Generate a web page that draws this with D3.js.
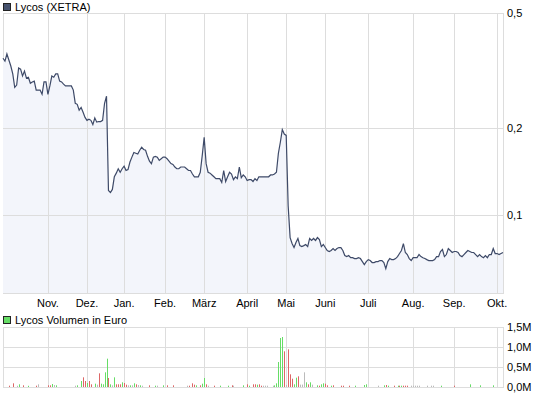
<!DOCTYPE html>
<html>
<head>
<meta charset="utf-8">
<script src="https://cdn.jsdelivr.net/npm/d3@7"></script>
<style>
  body { margin: 0; background: #fff; }
  text { font-family: "Liberation Sans", Arial, sans-serif; font-size: 11px; fill: #000; }
</style>
</head>
<body>
<div id="chart"></div>
<script>
// trading calendar (XETRA)
const firstDay = "2008-10-01";
const lastDay = "2009-10-06";
const holidays = ["2008-12-24", "2008-12-25", "2008-12-26", "2008-12-31",
  "2009-01-01", "2009-04-10", "2009-04-13", "2009-05-01"];
const monthLabels = ["Nov.", "Dez.", "Jan.", "Feb.", "März", "April", "Mai",
  "Juni", "Juli", "Aug.", "Sep.", "Okt."];

// closing prices in Euro, one per trading day
const price = [
  0.349, 0.341, 0.361, 0.344, 0.328, 0.308, 0.277, 0.282, 0.323, 0.320,
  0.303, 0.315, 0.298, 0.300, 0.286, 0.289, 0.291, 0.271, 0.271, 0.271,
  0.262, 0.289, 0.289, 0.262, 0.280, 0.303, 0.300, 0.308, 0.308, 0.291,
  0.289, 0.284, 0.280, 0.280, 0.280, 0.280, 0.271, 0.244, 0.242, 0.231,
  0.236, 0.227, 0.218, 0.213, 0.215, 0.213, 0.206, 0.217, 0.210, 0.211,
  0.211, 0.213, 0.244, 0.258, 0.122, 0.120, 0.123, 0.136, 0.140, 0.145,
  0.141, 0.145, 0.148, 0.143, 0.144, 0.153, 0.159, 0.165, 0.164, 0.163,
  0.168, 0.172, 0.169, 0.168, 0.160, 0.154, 0.151, 0.159, 0.160, 0.159,
  0.155, 0.157, 0.159, 0.159, 0.157, 0.154, 0.151, 0.150, 0.147, 0.145,
  0.145, 0.147, 0.147, 0.147, 0.145, 0.143, 0.143, 0.139, 0.136, 0.136,
  0.136, 0.141, 0.161, 0.186, 0.151, 0.141, 0.140, 0.138, 0.136, 0.134,
  0.134, 0.134, 0.130, 0.143, 0.131, 0.136, 0.141, 0.139, 0.133, 0.136,
  0.134, 0.147, 0.135, 0.138, 0.136, 0.132, 0.133, 0.133, 0.131, 0.134,
  0.132, 0.136, 0.136, 0.136, 0.136, 0.136, 0.136, 0.138, 0.138, 0.139,
  0.141, 0.164, 0.179, 0.198, 0.191, 0.189, 0.108, 0.0839, 0.0800, 0.0775,
  0.0807, 0.0833, 0.0787, 0.0781, 0.0787, 0.0794, 0.0781, 0.0833, 0.0820, 0.0833,
  0.0820, 0.0839, 0.0826, 0.0781, 0.0794, 0.0775, 0.0757, 0.0751, 0.0757, 0.0769,
  0.0757, 0.0769, 0.0775, 0.0775, 0.0757, 0.0727, 0.0721, 0.0727, 0.0715, 0.0715,
  0.0710, 0.0710, 0.0715, 0.0710, 0.0693, 0.0677, 0.0693, 0.0704, 0.0699, 0.0688,
  0.0688, 0.0693, 0.0693, 0.0699, 0.0699, 0.0688, 0.0655, 0.0693, 0.0710, 0.0704,
  0.0704, 0.0710, 0.0721, 0.0739, 0.0757, 0.0800, 0.0745, 0.0733, 0.0710, 0.0699,
  0.0715, 0.0715, 0.0715, 0.0733, 0.0721, 0.0715, 0.0710, 0.0704, 0.0699, 0.0699,
  0.0699, 0.0704, 0.0721, 0.0721, 0.0751, 0.0763, 0.0721, 0.0733, 0.0769, 0.0757,
  0.0745, 0.0751, 0.0751, 0.0745, 0.0727, 0.0721, 0.0733, 0.0745, 0.0757, 0.0751,
  0.0745, 0.0745, 0.0733, 0.0721, 0.0733, 0.0721, 0.0715, 0.0727, 0.0715, 0.0733,
  0.0733, 0.0769, 0.0739, 0.0739, 0.0733, 0.0739, 0.0745
];
const priceTicks = [0.1, 0.2, 0.5];

// turnover in thousand Euro on the days that show a bar
const volDay = [3, 5, 7, 8, 10, 13, 17, 18, 23, 24, 25, 26, 27, 37, 38, 40, 41, 42, 43, 44,
  45, 47, 48, 49, 50, 51, 52, 53, 54, 55, 56, 57, 58, 59, 60, 61, 62, 63, 64, 65,
  66, 67, 68, 69, 70, 71, 75, 78, 79, 82, 84, 87, 94, 95, 97, 98, 99, 101, 102, 103,
  104, 105, 108, 111, 115, 117, 118, 123, 125, 126, 128, 129, 130, 131, 132, 133, 134, 135, 138, 139,
  140, 141, 142, 143, 144, 145, 146, 147, 148, 149, 150, 151, 152, 153, 154, 155, 156, 157, 158, 161,
  162, 163, 164, 165, 166, 168, 169, 173, 174, 177, 180, 185, 186, 192, 195, 196, 197, 200, 202, 203,
  204, 205, 206, 207, 209, 210, 211, 212, 213, 217, 219, 220, 224, 231, 239, 244, 251];
const volK = [33, 92, 30, 67, 42, 30, 33, 67, 42, 42, 75, 50, 42, 33, 42, 150, 242, 150, 100, 150,
  67, 83, 58, 342, 83, 67, 367, 708, 225, 67, 42, 242, 67, 67, 67, 117, 100, 58, 42, 42,
  42, 92, 67, 50, 42, 33, 42, 33, 33, 42, 42, 42, 33, 33, 92, 58, 42, 42, 83, 225,
  67, 33, 33, 33, 33, 42, 33, 42, 67, 33, 67, 67, 58, 67, 33, 33, 33, 33, 33, 42,
  92, 625, 1225, 1250, 892, 50, 942, 317, 208, 67, 233, 267, 60, 60, 367, 117, 67, 117, 58, 42,
  33, 67, 92, 83, 42, 33, 42, 33, 33, 33, 33, 50, 67, 33, 42, 50, 33, 33, 33, 33,
  33, 33, 33, 33, 33, 33, 33, 33, 33, 33, 33, 33, 33, 33, 67, 42, 42];
// g = up day, r = down day, n = unchanged (same order as volDay)
const volSide = ("rrngrgrnrrgngnggrrgr" + "rgnrggggrgngrrrgrrng" + "ngrngnrgngrrnrrrgrgg" +
  "rnrggrngrgrrgrrnnnng" + "ggggrnrrrggrnnngrgng" + "rggrrgrrrrgggngrgrgr" +
  "grrrnnnnnnnngrggg").split("");

const W = 545, H = 395;
const left = 3, right = 503;
const pTop = 13, pBottom = 293;
const vTop = 327, vBottom = 387;

const parse = d3.timeParse("%Y-%m-%d");
const fmtDay = d3.timeFormat("%Y-%m-%d");
const days = d3.timeDay
  .range(parse(firstDay), d3.timeDay.offset(parse(lastDay), 1))
  .filter((d) => d.getDay() !== 0 && d.getDay() !== 6 && !holidays.includes(fmtDay(d)));

const points = days.map((d, i) => ({ date: d, i: i, value: price[i] }));

// first trading day of every new month
const monthStarts = [];
days.forEach((d, i) => {
  if (i > 0 && d.getMonth() !== days[i - 1].getMonth()) monthStarts.push(i);
});

const svg = d3.select("#chart").append("svg").attr("width", W).attr("height", H);

const x = d3.scaleLinear().domain([0, days.length - 1]).range([left, right]);
const y = d3.scaleLog().domain([0.054, 0.5]).range([pBottom, pTop]);
const yv = d3.scaleLinear().domain([0, 1500]).range([vBottom, vTop]);
const crisp = (v) => Math.round(v) + 0.5;

const grid = "#dddddd";

// ---- price panel
svg.append("rect")
  .attr("x", left + 0.5).attr("y", pTop + 0.5)
  .attr("width", right - left).attr("height", pBottom - pTop)
  .attr("fill", "#fff").attr("stroke", grid);

const area = d3.area()
  .x((d) => x(d.i))
  .y0(pBottom)
  .y1((d) => y(d.value));
svg.append("path").datum(points).attr("d", area).attr("fill", "#f3f5fb");

svg.append("g").selectAll("line").data(priceTicks).join("line")
  .attr("x1", left).attr("x2", right)
  .attr("y1", (d) => crisp(y(d))).attr("y2", (d) => crisp(y(d)))
  .attr("stroke", grid);

svg.append("g").selectAll("line").data(monthStarts).join("line")
  .attr("x1", (d) => crisp(x(d))).attr("x2", (d) => crisp(x(d)))
  .attr("y1", pTop).attr("y2", pBottom)
  .attr("stroke", grid);

const line = d3.line().x((d) => x(d.i)).y((d) => y(d.value));
svg.append("path").datum(points).attr("d", line)
  .attr("fill", "none").attr("stroke", "#3e4a68").attr("stroke-width", 1.2);

svg.append("g").selectAll("text").data(priceTicks).join("text")
  .attr("x", right + 4).attr("y", (d) => y(d) + 4)
  .text((d) => d3.format(".1f")(d).replace(".", ","));

svg.append("g").selectAll("text").data(monthStarts).join("text")
  .attr("x", (d) => x(d)).attr("y", pBottom + 14)
  .attr("text-anchor", "middle")
  .text((d, k) => monthLabels[k]);

// legend
svg.append("rect").attr("x", 3.5).attr("y", 3.5).attr("width", 7).attr("height", 7)
  .attr("fill", "#46526e").attr("stroke", "#222");
svg.append("text").attr("x", 15).attr("y", 11).text("Lycos (XETRA)");

// ---- volume panel
svg.append("rect")
  .attr("x", left + 0.5).attr("y", vTop + 0.5)
  .attr("width", right - left).attr("height", vBottom - vTop)
  .attr("fill", "#fff").attr("stroke", grid);

const volTicks = [0, 500, 1000, 1500];
svg.append("g").selectAll("line").data(volTicks).join("line")
  .attr("x1", left).attr("x2", right)
  .attr("y1", (d) => crisp(yv(d))).attr("y2", (d) => crisp(yv(d)))
  .attr("stroke", grid);

svg.append("g").selectAll("line").data(monthStarts).join("line")
  .attr("x1", (d) => crisp(x(d))).attr("x2", (d) => crisp(x(d)))
  .attr("y1", vTop).attr("y2", vBottom)
  .attr("stroke", grid);

const sideColor = { g: "#66dd66", r: "#dd6666", n: "#bbbbbb" };
svg.append("g").selectAll("rect").data(volDay).join("rect")
  .attr("x", (d) => Math.round(x(d)))
  .attr("width", 1)
  .attr("y", (d, k) => yv(volK[k]))
  .attr("height", (d, k) => vBottom - yv(volK[k]))
  .attr("fill", (d, k) => sideColor[volSide[k]]);

svg.append("g").selectAll("text").data(volTicks).join("text")
  .attr("x", right + 4).attr("y", (d) => yv(d) + 4)
  .text((d) => d3.format(".1f")(d / 1000).replace(".", ",") + "M");

svg.append("rect").attr("x", 3.5).attr("y", 316.5).attr("width", 7).attr("height", 7)
  .attr("fill", "#66dd66").attr("stroke", "#222");
svg.append("text").attr("x", 15).attr("y", 324).text("Lycos Volumen in Euro");
</script>
</body>
</html>
